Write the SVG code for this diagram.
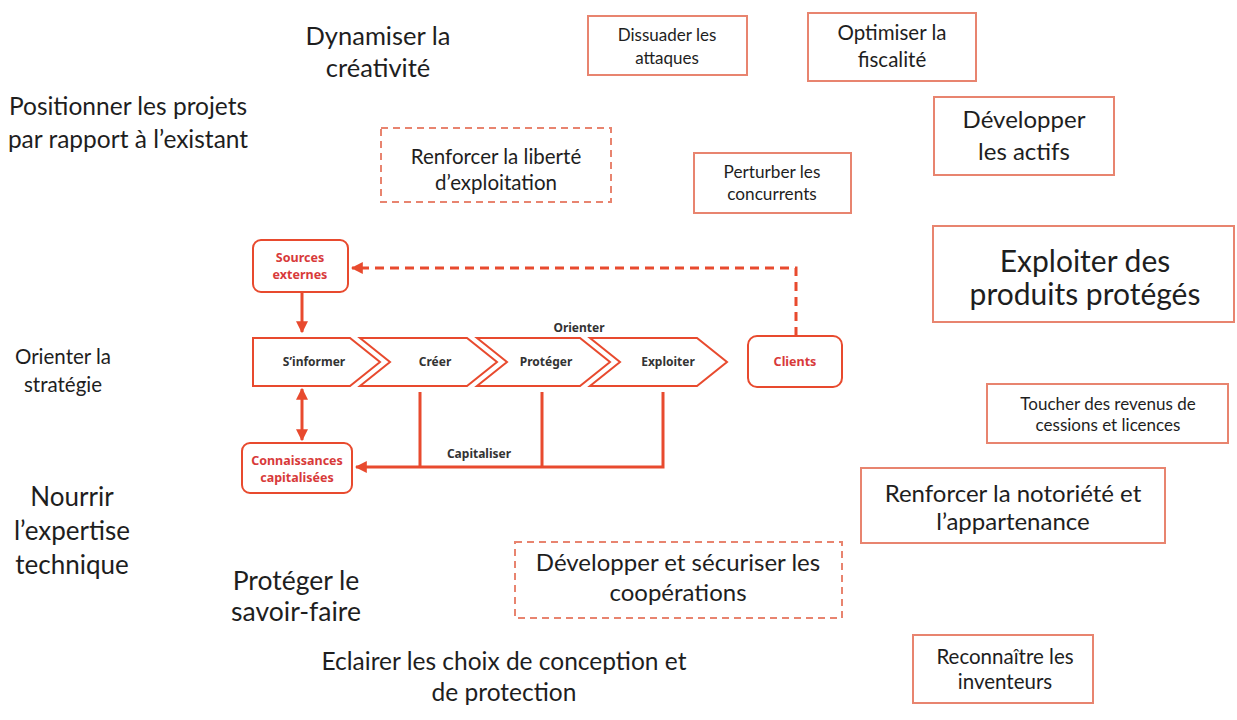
<svg xmlns="http://www.w3.org/2000/svg" width="1237" height="720" viewBox="0 0 1237 720">
<defs>
<style>
.t{font-family:Lato,"Noto Sans",sans-serif;fill:#1e1e1e;text-anchor:middle}
.box{fill:#fff;stroke:#e8846f;stroke-width:2}
.dbox{fill:#fff;stroke:#e8846f;stroke-width:2;stroke-dasharray:7 5}
.chev{fill:#fff;stroke:#e84a2e;stroke-width:2}
.rn{fill:#fff;stroke:#e84a2e;stroke-width:2}
.ft{font-family:"Noto Sans",Lato,sans-serif;font-weight:bold;font-size:12px;fill:#333;text-anchor:middle}
.rt{font-family:"Noto Sans",Lato,sans-serif;font-weight:bold;font-size:12.5px;fill:#d83a3a;text-anchor:middle}
.ln{fill:none;stroke:#e84a2e;stroke-width:3}
</style>
<marker id="ah" viewBox="0 0 10 10" refX="9" refY="5" markerWidth="4" markerHeight="4" orient="auto-start-reverse">
<path d="M0,0 L10,5 L0,10 z" fill="#e84a2e"/>
</marker>
</defs>
<rect width="1237" height="720" fill="#fff"/>

<g id="free-texts">
<text class="t" font-size="25.5" x="378" y="45">Dynamiser la</text>
<text class="t" font-size="25.5" x="378" y="77">créativité</text>
<text class="t" font-size="24.5" x="128" y="115">Positionner les projets</text>
<text class="t" font-size="24.5" x="128" y="148">par rapport à l’existant</text>
<text class="t" font-size="20.5" x="63" y="364">Orienter la</text>
<text class="t" font-size="20.5" x="63" y="392">stratégie</text>
<text class="t" font-size="26" x="72" y="506">Nourrir</text>
<text class="t" font-size="26" x="72" y="540">l’expertise</text>
<text class="t" font-size="26" x="72" y="574">technique</text>
<text class="t" font-size="26.5" x="296" y="590">Protéger le</text>
<text class="t" font-size="26.5" x="296" y="621">savoir-faire</text>
<text class="t" font-size="24.5" x="504" y="670">Eclairer les choix de conception et</text>
<text class="t" font-size="24.5" x="504" y="701">de protection</text>
</g>

<g id="n-dissuader"><rect class="box" x="588" y="16" width="159" height="59"/>
<text class="t" font-size="17" x="667" y="41">Dissuader les</text><text class="t" font-size="17" x="667" y="64">attaques</text></g>
<g id="n-optimiser"><rect class="box" x="808" y="13" width="168" height="68"/>
<text class="t" font-size="20.5" x="892" y="40">Optimiser la</text><text class="t" font-size="20.5" x="892" y="67">fiscalité</text></g>
<g id="n-developper-actifs"><rect class="box" x="934" y="97" width="180" height="78"/>
<text class="t" font-size="24" x="1024" y="128">Développer</text><text class="t" font-size="24" x="1024" y="160">les actifs</text></g>
<g id="n-perturber"><rect class="box" x="694" y="153" width="157" height="60"/>
<text class="t" font-size="17.2" x="772" y="178">Perturber les</text><text class="t" font-size="17.2" x="772" y="200">concurrents</text></g>
<g id="n-liberte"><rect class="dbox" x="381" y="128" width="230" height="74"/>
<text class="t" font-size="20.5" x="496" y="164">Renforcer la liberté</text><text class="t" font-size="20.5" x="496" y="190">d’exploitation</text></g>
<g id="n-exploiter-produits"><rect class="box" x="933" y="226" width="301" height="96"/>
<text class="t" font-size="30" x="1085" y="272">Exploiter des</text><text class="t" font-size="30" x="1085" y="305">produits protégés</text></g>
<g id="n-toucher"><rect class="box" x="987" y="384" width="241" height="59"/>
<text class="t" font-size="17" x="1108" y="410">Toucher des revenus de</text><text class="t" font-size="17" x="1108" y="431">cessions et licences</text></g>
<g id="n-notoriete"><rect class="box" x="861" y="468" width="304" height="75"/>
<text class="t" font-size="24" x="1013" y="502">Renforcer la notoriété et</text><text class="t" font-size="24" x="1013" y="530">l’appartenance</text></g>
<g id="n-cooperations"><rect class="dbox" x="515" y="542" width="327" height="76"/>
<text class="t" font-size="24" x="678" y="571">Développer et sécuriser les</text><text class="t" font-size="24" x="678" y="601">coopérations</text></g>
<g id="n-inventeurs"><rect class="box" x="913" y="635" width="180" height="68"/>
<text class="t" font-size="20.5" x="1005" y="664">Reconnaître les</text><text class="t" font-size="20.5" x="1005" y="689">inventeurs</text></g>

<g id="n-sources"><rect class="rn" x="253" y="240" width="95" height="52" rx="8"/>
<text class="rt" x="300" y="262">Sources</text><text class="rt" x="300" y="279">externes</text></g>
<g id="n-sinformer"><path class="chev" d="M253,338 L350,338 L380,362 L350,386 L253,386 Z"/>
<text class="ft" x="314" y="366">S’informer</text></g>
<g id="n-creer"><path class="chev" d="M360,338 L467,338 L497,362 L467,386 L360,386 L390,362 Z"/>
<text class="ft" x="435" y="366">Créer</text></g>
<g id="n-proteger"><path class="chev" d="M477,338 L580,338 L610,362 L580,386 L477,386 L507,362 Z"/>
<text class="ft" x="546" y="366">Protéger</text></g>
<g id="n-exploiter"><path class="chev" d="M590,338 L697,338 L727,362 L697,386 L590,386 L620,362 Z"/>
<text class="ft" x="668" y="366">Exploiter</text></g>
<g id="n-clients"><rect class="rn" x="748" y="336" width="94" height="51" rx="9"/>
<text class="rt" x="795" y="366">Clients</text></g>
<g id="n-connaissances"><rect class="rn" x="242" y="443" width="110" height="50" rx="8"/>
<text class="rt" x="297" y="465">Connaissances</text><text class="rt" x="297" y="482">capitalisées</text></g>

<g id="connectors">
<path class="ln" d="M302,292 L302,332" marker-end="url(#ah)"/>
<path class="ln" d="M302,389 L302,440" marker-start="url(#ah)" marker-end="url(#ah)"/>
<path class="ln" d="M796,336 L796,268 L352,268" stroke-dasharray="9 6" marker-end="url(#ah)"/>
<path class="ln" d="M420,392 L420,467 M542,392 L542,467 M663,392 L663,467 L356,467" marker-end="url(#ah)"/>
<text class="ft" x="579" y="332">Orienter</text>
<text class="ft" x="479" y="458">Capitaliser</text>
</g>
</svg>
